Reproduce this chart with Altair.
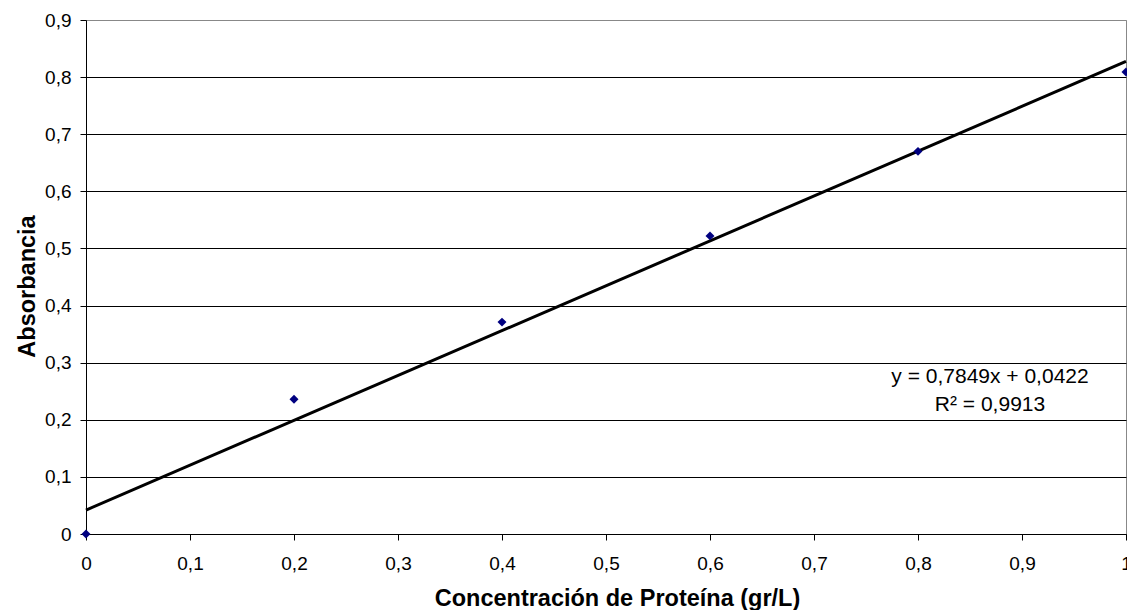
import altair as alt
import pandas as pd

conc = [0.0, 0.2, 0.4, 0.6, 0.8, 1.0]
absorb = [0.0, 0.236, 0.371, 0.522, 0.670, 0.809]
eq_line = "y = 0,7849x + 0,0422"
r2_line = "R² = 0,9913"

df = pd.DataFrame({"x": conc, "y": absorb})
FONT = "Liberation Sans"
lab = "replace(datum.label, '.', ',')"
LFS = 19
TFS = 23.5

xenc = alt.X("x:Q", scale=alt.Scale(domain=[0, 1], nice=False),
             axis=alt.Axis(title="Concentración de Proteína (gr/L)", values=[i / 10 for i in range(11)],
                           format=".1~f", labelExpr=lab, grid=False, domainColor="#000",
                           tickColor="#000", tickSize=6, labelFontSize=LFS, labelColor="#000",
                           labelFont=FONT, titleFont=FONT, titleFontSize=TFS, titleColor="#000",
                           titleFontWeight="bold", labelPadding=14, titlePadding=13, labelFlush=False,
                           titleX=531, titleAlign="center"))
yenc = alt.Y("y:Q", scale=alt.Scale(domain=[0, 0.9], nice=False),
             axis=alt.Axis(title="Absorbancia", values=[i / 10 for i in range(10)],
                           format=".1~f", labelExpr=lab,
                           gridColor=alt.condition("datum.value > 0.85", alt.value("#888888"), alt.value("#000000")),
                           gridWidth=1, domainColor="#000",
                           tickColor="#000", tickSize=6, labelFontSize=LFS, labelColor="#000",
                           labelFont=FONT, titleFont=FONT, titleFontSize=TFS, titleColor="#000",
                           titleFontWeight="bold", labelPadding=9, labelFlush=False,
                           titleAngle=270, titleBaseline="alphabetic", titleAlign="center",
                           titleX=-52, titleY=266))

base = alt.Chart(df)
reg = base.transform_regression("x", "y", extent=[0, 1]).mark_line(color="#000", strokeWidth=3).encode(
    x=xenc, y=yenc)
pts = base.mark_point(shape="diamond", filled=True, color="#000080", size=80, opacity=1).encode(
    x="x:Q", y="y:Q")

t1 = alt.Chart(pd.DataFrame({"t": [eq_line]})).mark_text(
    font=FONT, fontSize=21, color="#000", align="center", baseline="middle").encode(
    text="t:N", x=alt.value(904), y=alt.value(357))
t2 = alt.Chart(pd.DataFrame({"t": [r2_line]})).mark_text(
    font=FONT, fontSize=21, color="#000", align="center", baseline="middle").encode(
    text="t:N", x=alt.value(904), y=alt.value(385))

chart = alt.layer(reg, pts, t1, t2).properties(
    width=1040, height=514,
    autosize=alt.AutoSizeParams(type="none"),
    padding={"left": 86, "top": 20, "right": 1, "bottom": 76},
    background="white",
).configure_view(stroke="#888888", strokeWidth=1)

chart.save("out.html", embed_options={"renderer": "svg", "actions": False})
